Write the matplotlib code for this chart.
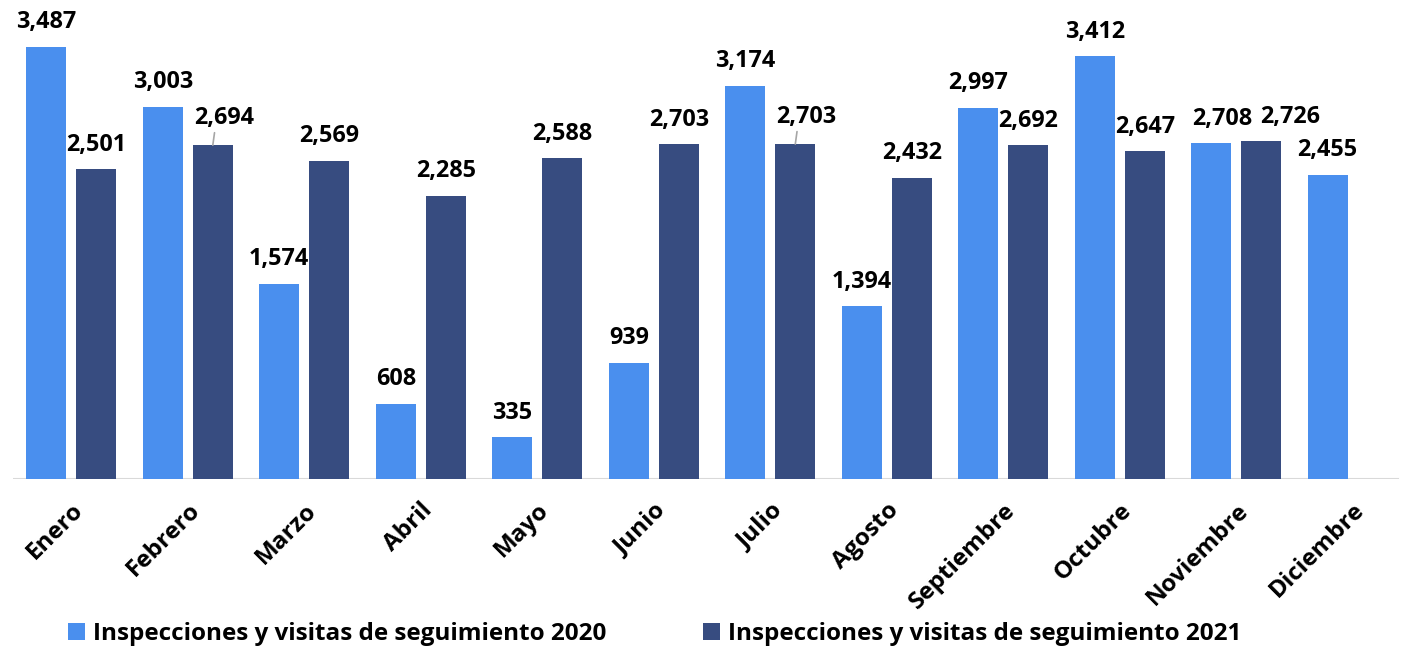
import matplotlib
matplotlib.use("Agg")
import matplotlib.pyplot as plt
import numpy as np

months = ["Enero", "Febrero", "Marzo", "Abril", "Mayo", "Junio", "Julio",
          "Agosto", "Septiembre", "Octubre", "Noviembre", "Diciembre"]
vals_2020 = [3487, 3003, 1574, 608, 335, 939, 3174, 1394, 2997, 3412, 2708, 2455]
vals_2021 = [2501, 2694, 2569, 2285, 2588, 2703, 2703, 2432, 2692, 2647, 2726, None]
series_names = ["Inspecciones y visitas de seguimiento 2020",
                "Inspecciones y visitas de seguimiento 2021"]

c2020 = "#4A8FEE"
c2021 = "#374C80"

plt.rcParams['font.family'] = ['Open Sans', 'DejaVu Sans']
plt.rcParams['font.weight'] = 'bold'

fig = plt.figure(figsize=(14.11, 6.56), dpi=100)
ax = fig.add_axes([13/1411, (656-479)/656, (1411-13)/1411, 479/656])

x = np.arange(len(months))
w = 0.343
off = 0.215

x21 = [xi for xi, v in zip(x, vals_2021) if v is not None]
v21 = [v for v in vals_2021 if v is not None]

b1 = ax.bar(x - off, vals_2020, width=w, color=c2020, label=series_names[0])
b2 = ax.bar(np.array(x21) + off, v21, width=w, color=c2021, label=series_names[1])

ax.set_xlim(-0.5, len(months) - 0.5)
ax.set_ylim(0, 3866)
ax.axhline(0, xmin=0, xmax=(1398-13)/(1411-13), color="#D9D9D9", lw=1.5, zorder=0.5)

fs = 17.5
fl = 16.8
shift20 = {10: 8}
for xi, v in zip(x, vals_2020):
    ax.annotate(f"{v:,}", (xi - off, v), xytext=(shift20.get(xi, 0), 9),
                textcoords="offset points", ha="center", va="bottom",
                fontsize=fl, fontweight="bold")

leader = {1, 6}
shift21 = {10: 21}
for xi, v in zip(x21, v21):
    if xi in leader:
        ax.annotate(f"{v:,}", (xi + off, v), xytext=(8, 11), textcoords="offset points",
                    ha="center", va="bottom", fontsize=fl, fontweight="bold",
                    arrowprops=dict(arrowstyle="-", color="#A6A6A6", lw=1.2,
                                    shrinkA=0, shrinkB=0, relpos=(0.35, 0.0)))
    else:
        ax.annotate(f"{v:,}", (xi + off, v), xytext=(shift21.get(xi, 0), 9),
                    textcoords="offset points", ha="center", va="bottom",
                    fontsize=fl, fontweight="bold")

ax.set_xticks(x)
ax.set_xticklabels(months, rotation=45, ha="right", rotation_mode="anchor",
                   fontsize=fs, fontweight="bold")
ax.tick_params(axis="x", length=0, pad=14)
ax.set_yticks([])
for s in ["top", "right", "left", "bottom"]:
    ax.spines[s].set_visible(False)

leg = fig.legend(handles=[b1, b2], labels=series_names, loc="lower center",
                 bbox_to_anchor=(0.464, -0.018), ncol=2, frameon=False,
                 prop={"size": fs, "weight": "bold"}, handlelength=0.7,
                 handleheight=0.7, handletextpad=0.3, columnspacing=4.0)

fig.savefig("out.png", dpi=100)
